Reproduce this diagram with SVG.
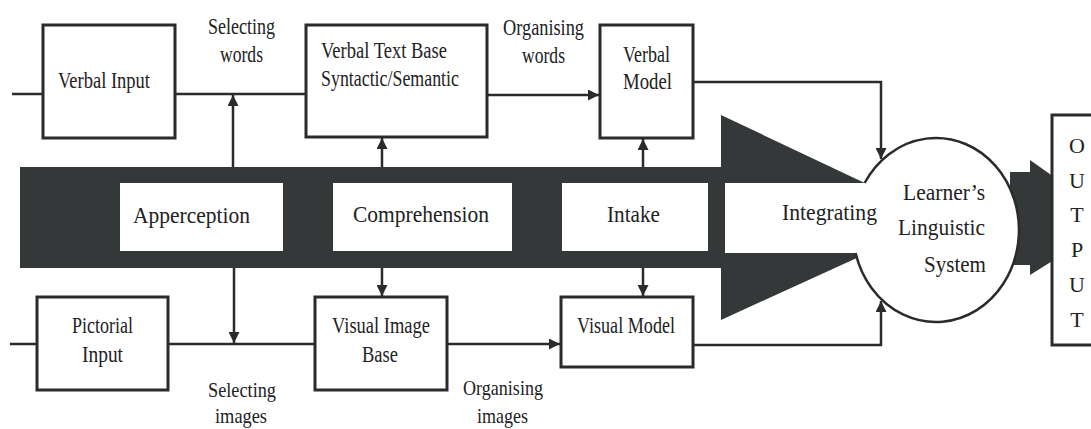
<svg xmlns="http://www.w3.org/2000/svg" width="1091" height="429" viewBox="0 0 1091 429">
<defs>
<style>
.box{fill:#fff;stroke:#2b2b2b;stroke-width:3}
.inner{fill:#fff;stroke:none}
.dark{fill:#353839;stroke:none}
.ln{fill:none;stroke:#2b2b2b;stroke-width:2.5}
.t{font-family:"Liberation Serif","Times New Roman",serif;font-size:23px;fill:#222;text-anchor:middle}
.s{font-size:22px}
.o{font-family:"Liberation Serif","Times New Roman",serif;font-size:22px;fill:#222;text-anchor:middle}
</style>
<marker id="ah" viewBox="0 0 10 10" refX="10" refY="5" markerWidth="11" markerHeight="11" orient="auto" markerUnits="userSpaceOnUse">
<path d="M0,0 L10,5 L0,10 Z" fill="#2b2b2b"/>
</marker>
</defs>
<rect width="1091" height="429" fill="#fff"/>

<g id="band">
<rect class="dark" x="20" y="167" width="702" height="101"/>
<polygon class="dark" points="721,115 905,202 905,236 721,320"/>
<rect class="inner" x="725" y="183" width="180" height="70"/>
</g>

<g id="output-arrow">
<polygon class="dark" points="1010,172 1030,172 1030,160 1054,177 1054,260 1030,275 1030,265 1010,265"/>
</g>

<g id="learners-system">
<ellipse cx="936" cy="230" rx="83" ry="92" fill="#fff"/>
<path class="ln" d="M864.6,183 A83,92 0 1 1 855.6,253"/>
<text class="t" x="944" y="200" textLength="82" lengthAdjust="spacingAndGlyphs">Learner’s</text>
<text class="t" x="941.5" y="235" textLength="87" lengthAdjust="spacingAndGlyphs">Linguistic</text>
<text class="t" x="955" y="272" textLength="62" lengthAdjust="spacingAndGlyphs">System</text>
</g>

<g id="apperception">
<rect class="inner" x="120" y="183" width="163" height="68"/>
<text class="t" x="191.5" y="223" textLength="117" lengthAdjust="spacingAndGlyphs">Apperception</text>
</g>
<g id="comprehension">
<rect class="inner" x="333" y="183" width="179" height="68"/>
<text class="t" x="421" y="222" textLength="136" lengthAdjust="spacingAndGlyphs">Comprehension</text>
</g>
<g id="intake">
<rect class="inner" x="562" y="183" width="146" height="68"/>
<text class="t" x="633.5" y="222" textLength="53" lengthAdjust="spacingAndGlyphs">Intake</text>
</g>
<g id="integrating">
<text class="t" x="829.5" y="220" textLength="95" lengthAdjust="spacingAndGlyphs">Integrating</text>
</g>

<g id="connectors">
<path class="ln" d="M12,94 H43"/>
<path class="ln" d="M175,94 H306"/>
<path class="ln" d="M233,167 V95" marker-end="url(#ah)"/>
<path class="ln" d="M382,167 V138" marker-end="url(#ah)"/>
<path class="ln" d="M643,167 V139" marker-end="url(#ah)"/>
<path class="ln" d="M487,95 H599" marker-end="url(#ah)"/>
<path class="ln" d="M693,82 H881 V159" marker-end="url(#ah)"/>
<path class="ln" d="M10,344 H37"/>
<path class="ln" d="M168,344 H315"/>
<path class="ln" d="M234,268 V343" marker-end="url(#ah)"/>
<path class="ln" d="M382,268 V296" marker-end="url(#ah)"/>
<path class="ln" d="M643,268 V296" marker-end="url(#ah)"/>
<path class="ln" d="M447,344 H560" marker-end="url(#ah)"/>
<path class="ln" d="M680,345 H881 V301" marker-end="url(#ah)"/>
</g>

<g id="verbal-input">
<rect class="box" x="43" y="25" width="132" height="113"/>
<text class="t" x="104" y="88" textLength="92" lengthAdjust="spacingAndGlyphs">Verbal Input</text>
</g>
<g id="verbal-text-base">
<rect class="box" x="306" y="25" width="181" height="112"/>
<text class="t" x="384" y="58" textLength="126" lengthAdjust="spacingAndGlyphs">Verbal Text Base</text>
<text class="t" x="390" y="86" textLength="138" lengthAdjust="spacingAndGlyphs">Syntactic/Semantic</text>
</g>
<g id="verbal-model">
<rect class="box" x="600" y="25" width="93" height="113"/>
<text class="t" x="646.5" y="62" textLength="47" lengthAdjust="spacingAndGlyphs">Verbal</text>
<text class="t" x="647.5" y="89" textLength="49" lengthAdjust="spacingAndGlyphs">Model</text>
</g>
<g id="pictorial-input">
<rect class="box" x="37" y="297" width="131" height="93"/>
<text class="t" x="102.5" y="333" textLength="61" lengthAdjust="spacingAndGlyphs">Pictorial</text>
<text class="t" x="102.5" y="362" textLength="41" lengthAdjust="spacingAndGlyphs">Input</text>
</g>
<g id="visual-image-base">
<rect class="box" x="315" y="297" width="132" height="93"/>
<text class="t" x="381" y="333" textLength="98" lengthAdjust="spacingAndGlyphs">Visual Image</text>
<text class="t" x="380" y="362" textLength="36" lengthAdjust="spacingAndGlyphs">Base</text>
</g>
<g id="visual-model">
<rect class="box" x="561" y="297" width="132" height="70"/>
<text class="t" x="626" y="333" textLength="98" lengthAdjust="spacingAndGlyphs">Visual Model</text>
</g>
<g id="output">
<rect class="box" x="1052" y="115" width="50" height="230"/>
<text class="o" x="1077" y="153">O</text>
<text class="o" x="1077" y="188">U</text>
<text class="o" x="1077" y="222">T</text>
<text class="o" x="1077" y="257">P</text>
<text class="o" x="1077" y="292">U</text>
<text class="o" x="1077" y="327">T</text>
</g>

<g id="labels">
<text class="t" x="241.5" y="34" textLength="67" lengthAdjust="spacingAndGlyphs">Selecting</text>
<text class="t" x="241.5" y="62" textLength="43" lengthAdjust="spacingAndGlyphs">words</text>
<text class="t" x="543.5" y="35" textLength="81" lengthAdjust="spacingAndGlyphs">Organising</text>
<text class="t" x="543.5" y="63" textLength="43" lengthAdjust="spacingAndGlyphs">words</text>
<text class="t s" x="242" y="397" textLength="68" lengthAdjust="spacingAndGlyphs">Selecting</text>
<text class="t s" x="241" y="423" textLength="52" lengthAdjust="spacingAndGlyphs">images</text>
<text class="t s" x="503" y="395" textLength="80" lengthAdjust="spacingAndGlyphs">Organising</text>
<text class="t s" x="502.5" y="423" textLength="51" lengthAdjust="spacingAndGlyphs">images</text>
</g>
</svg>
